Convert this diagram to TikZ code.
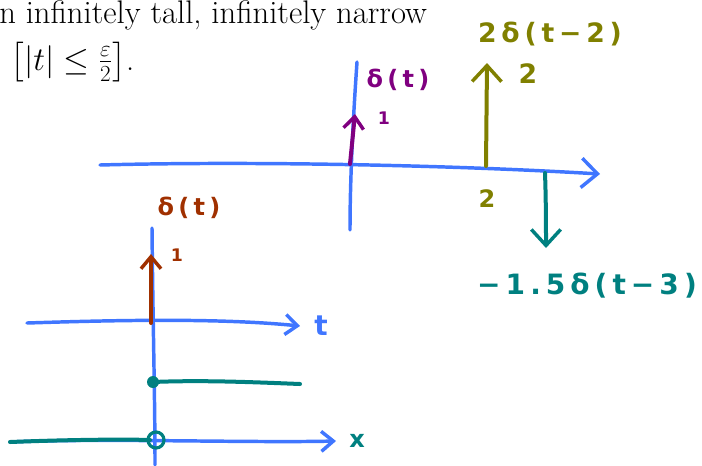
\documentclass[tikz,border=0pt]{standalone}
\usepackage{amsmath}
\usepackage{fontspec}
\newfontfamily\handfont{DejaVu Sans}[LetterSpace=18]
\usetikzlibrary{arrows.meta}

\definecolor{sketchblue}{RGB}{64,118,255}
\definecolor{sketchpurple}{RGB}{128,0,128}
\definecolor{sketcholive}{RGB}{128,128,0}
\definecolor{sketchteal}{RGB}{0,128,128}
\definecolor{sketchbrown}{RGB}{160,48,0}

\tikzset{
  axis/.style={draw=sketchblue, line width=2.6pt},
  stroke/.style={draw=#1, line width=3pt},
  bigbarb/.style={-{Straight Barb[length=12pt,width=22pt,line width=2.6pt]}},
  smallbarb/.style={-{Straight Barb[length=9pt,width=15pt,line width=2.6pt]}},
  hand/.style={text=#1, font=\handfont\bfseries\fontsize{18}{20}\selectfont, inner sep=0pt},
}

\begin{document}
\begin{tikzpicture}[x=0.75pt, y=-0.75pt, line cap=round, line join=round]
\useasboundingbox (0,0) rectangle (702,465);

% Text from the page
\node[anchor=base west, inner sep=0pt, font=\fontsize{24.5}{35}\selectfont] (line1) at (-1,23) {n infinitely tall, infinitely narrow};
\node[anchor=base west, inner sep=0pt, font=\fontsize{24.5}{35}\selectfont] (line2) at (10,70) {$\bigl[|t|\le\frac{\varepsilon}{2}\bigr]$.};

% Upper axes
\draw[axis, bigbarb] (100,165) .. controls (250,161) and (450,165) .. (600,174);
\draw[axis] (357,62) .. controls (353,120) and (350,180) .. (350,230);

% Impulse at 0
\draw[stroke=sketchpurple, smallbarb] (350,164) -- (355,114);
\node[hand=sketchpurple] (d0) at (398,80) {δ(t)};
\node[hand=sketchpurple, font=\handfont\bfseries\fontsize{13}{14}\selectfont] (w0) at (384,118) {1};

% Impulse at 2
\draw[stroke=sketcholive, bigbarb] (486,166) -- (487,63);
\node[hand=sketcholive, font=\handfont\bfseries\fontsize{20}{22}\selectfont] (d2) at (550,34) {2δ(t−2)};
\node[hand=sketcholive, font=\handfont\bfseries\fontsize{20}{22}\selectfont] (w2) at (528,74) {2};
\node[hand=sketcholive] (t2) at (487,199) {2};

% Impulse at 3
\draw[stroke=sketchteal, bigbarb] (545,173) .. controls (546,200) and (546,230) .. (546,248);
\node[hand=sketchteal, font=\handfont\bfseries\fontsize{21}{24}\selectfont] (d3) at (587,286) {−1.5δ(t−3)};

% Lower axes
\draw[axis] (152,228) .. controls (153,330) and (155,400) .. (155,465);
\draw[axis, smallbarb] (27,323) .. controls (120,320) and (220,318) .. (300,326);
\node[hand=sketchblue, font=\handfont\bfseries\fontsize{21}{24}\selectfont] (tlab) at (321,326) {t};
\draw[axis, smallbarb] (10,442) .. controls (100,438) and (250,443) .. (336,441);
\node[hand=sketchteal] (xlab) at (357,441) {x};

% Impulse on the lower axes
\draw[stroke=sketchbrown, smallbarb] (151,323) -- (151,254);
\node[hand=sketchbrown] (d1) at (189,208) {δ(t)};
\node[hand=sketchbrown, font=\handfont\bfseries\fontsize{13}{14}\selectfont] (w1) at (177,255) {1};

% Step
\fill[sketchteal] (153,382) circle (4.5pt);
\draw[stroke=sketchteal] (153,382) .. controls (200,380) and (250,382) .. (300,384);
\draw[stroke=sketchteal] (10,442) .. controls (60,440) and (120,439) .. (150,440);
\draw[draw=sketchteal, line width=2.4pt] (156,440) circle (6pt);

\end{tikzpicture}
\end{document}
